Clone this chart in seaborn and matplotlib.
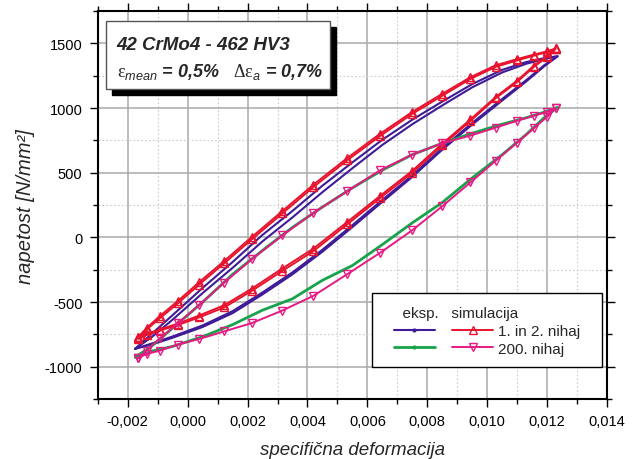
import matplotlib
matplotlib.use("Agg")
import matplotlib.pyplot as plt
import numpy as np
import pandas as pd
import seaborn as sns
from matplotlib.lines import Line2D
from matplotlib.patches import Rectangle
from matplotlib.ticker import MultipleLocator, FuncFormatter

# ---- simulated hysteresis loops (strain points shared by both branches) ----
sim_strain = [-0.00165, -0.00137, -0.00093, -0.00033, 0.00038, 0.00122, 0.00214,
              0.00316, 0.0042, 0.00532, 0.00643, 0.0075, 0.0085, 0.00944,
              0.01028, 0.011, 0.01156, 0.012, 0.01228]

# cycles 1 and 2: loading (upper) and unloading (lower) branches, N/mm^2
sim_c1_up = [-775, -712, -625, -510, -365, -200, -15, 185, 390, 595, 785, 955,
             1095, 1225, 1318, 1368, 1405, 1432, 1455]
sim_c1_down = [-785, -754, -720, -677, -618, -541, -413, -259, -105, 100, 305, 500,
               712, 900, 1075, 1202, 1318, 1395, 1455]
sim_c2_up = [-770, -700, -608, -492, -347, -182, 3, 203, 408, 612, 802, 970,
             1110, 1238, 1330, 1378, 1413, 1438, 1460]
sim_c2_down = [-770, -745, -712, -666, -604, -524, -396, -240, -86, 118, 322, 515,
               724, 912, 1085, 1212, 1328, 1402, 1460]

# cycle 200
sim_c200_up = [-933, -875, -780, -665, -523, -349, -169, 15, 190, 356, 520, 640,
               728, 787, 848, 902, 940, 972, 998]
sim_c200_down = [-933, -900, -875, -828, -785, -726, -662, -565, -451, -285, -118, 56,
                 241, 425, 592, 733, 844, 933, 998]

# ---- measured hysteresis loops ----
exp_strain = [-0.00175, -0.0012, -0.0005, 0.0005, 0.0015, 0.0025, 0.0035, 0.0045,
              0.0055, 0.0065, 0.0075, 0.0085, 0.0095, 0.0105, 0.0113, 0.0119, 0.01235]

exp_c1_up = [-860, -745, -600, -390, -190, 20, 205, 400, 580, 755, 910, 1050,
             1185, 1295, 1355, 1385, 1400]
exp_c1_down = [-860, -820, -765, -680, -570, -425, -270, -95, 95, 290, 480, 690,
               885, 1070, 1215, 1330, 1400]
exp_c2_up = [-860, -770, -635, -430, -235, -30, 155, 350, 535, 715, 875, 1020,
             1160, 1275, 1342, 1378, 1400]
exp_c2_down = [-860, -828, -775, -692, -585, -440, -285, -110, 80, 275, 468, 678,
               872, 1058, 1205, 1322, 1400]

exp_c200_up = [-925, -840, -700, -500, -285, -100, 78, 235, 383, 520, 640, 728,
               805, 875, 925, 968, 1005]
exp_c200_down = [-925, -879, -842, -767, -674, -562, -474, -331, -217, -55, 113, 270,
                 460, 640, 795, 925, 1005]

# tick spacing
x_major, x_minor = 0.002, 0.001
y_major, y_minor = 500, 250

PURPLE = "#3f1b98"
GREEN = "#17a34a"
RED = "#e8132e"
MAGENTA = "#e61a84"


def loop_frame(strain, up, down):
    """Closed loop: loading branch up to the peak, then unloading back."""
    s = list(strain) + list(strain[::-1])
    v = list(up) + list(down[::-1])
    return pd.DataFrame({"strain": s, "stress": v})


sns.set_theme(style="ticks")
plt.rcParams["font.family"] = ["Liberation Sans", "DejaVu Sans"]
plt.rcParams["mathtext.fontset"] = "custom"
plt.rcParams["mathtext.rm"] = "Liberation Serif"
plt.rcParams["mathtext.it"] = "Liberation Sans:italic"
plt.rcParams["mathtext.bf"] = "Liberation Sans:bold:italic"

fig = plt.figure(figsize=(6.39, 4.60), dpi=100)
ax = fig.add_axes([0.153, 0.130, 0.797, 0.844])

# measured loops
for up, down in [(exp_c1_up, exp_c1_down), (exp_c2_up, exp_c2_down)]:
    sns.lineplot(data=loop_frame(exp_strain, up, down), x="strain", y="stress",
                 sort=False, estimator=None, color=PURPLE, lw=1.5, ax=ax)
sns.lineplot(data=loop_frame(exp_strain, exp_c200_up, exp_c200_down), x="strain",
             y="stress", sort=False, estimator=None, color=GREEN, lw=2.0, ax=ax)

# simulated loops
for up, down in [(sim_c1_up, sim_c1_down), (sim_c2_up, sim_c2_down)]:
    sns.lineplot(data=loop_frame(sim_strain, up, down), x="strain", y="stress",
                 sort=False, estimator=None, color=RED, lw=1.4, marker="^",
                 markersize=6, markerfacecolor="none", markeredgecolor=RED,
                 markeredgewidth=1.0, ax=ax)
sns.lineplot(data=loop_frame(sim_strain, sim_c200_up, sim_c200_down), x="strain",
             y="stress", sort=False, estimator=None, color=MAGENTA, lw=1.4,
             marker="v", markersize=6, markerfacecolor="none",
             markeredgecolor=MAGENTA, markeredgewidth=1.0, ax=ax)

# axes
ax.set_xlim(-0.003, 0.014)
ax.set_ylim(-1250, 1750)
ax.xaxis.set_major_locator(MultipleLocator(x_major))
ax.xaxis.set_minor_locator(MultipleLocator(x_minor))
ax.yaxis.set_major_locator(MultipleLocator(y_major))
ax.yaxis.set_minor_locator(MultipleLocator(y_minor))
ax.xaxis.set_major_formatter(FuncFormatter(lambda v, p: f"{v:.3f}".replace(".", ",")
                                           .replace("-0,000", "0,000")))
ax.yaxis.set_major_formatter(FuncFormatter(lambda v, p: f"{int(round(v))}"))

ax.grid(which="major", color="#aaaaaa", lw=1.1, ls="-")
ax.grid(which="minor", color="#cccccc", lw=0.8, ls=(0, (1.5, 2.0)))
ax.set_axisbelow(True)

for sp in ax.spines.values():
    sp.set_visible(True)
    sp.set_color("black")
    sp.set_linewidth(1.5)
ax.tick_params(which="both", direction="out", top=True, right=True,
               labeltop=False, labelright=False, colors="black", width=1.0)
ax.tick_params(which="major", length=6, labelsize=10.5, pad=5)
ax.tick_params(which="minor", length=3.5)

ax.set_xlabel("specifična deformacija", fontsize=13.5, style="italic", labelpad=9)
ax.set_ylabel("napetost [N/mm²]", fontsize=14.5, style="italic", labelpad=7)

# annotation box with drop shadow
sh_dx, sh_dy = 6 / 509, 6 / 388
ax.add_patch(Rectangle((0.0157 + sh_dx, 0.799 - sh_dy), 0.44, 0.175,
                       transform=ax.transAxes, facecolor="black",
                       edgecolor="black", zorder=10))
ax.add_patch(Rectangle((0.0157, 0.799), 0.44, 0.175, transform=ax.transAxes,
                       facecolor="white", edgecolor="#555555", lw=1.0, zorder=11))
ax.text(0.037, 0.902, "42 CrMo4 - 462 HV3", transform=ax.transAxes, fontsize=13.5,
        fontweight="bold", style="italic", zorder=12)
ax.text(0.037, 0.832,
        r"$\mathrm{\varepsilon}_{mean}$ = 0,5%   $\mathrm{\Delta\varepsilon}_{a}$ = 0,7%",
        transform=ax.transAxes, fontsize=13, fontweight="bold", style="italic",
        zorder=12)

# legend: measured (left column) and simulated (right column), in a plain frame
ax.add_patch(Rectangle((0.538, 0.0825), 0.452, 0.1905, transform=ax.transAxes,
                       facecolor="white", edgecolor="black", lw=1.0, zorder=19))
handles = [
    Line2D([], [], color=PURPLE, lw=1.5, marker=".", markersize=4),
    Line2D([], [], color=GREEN, lw=2.0, marker=".", markersize=4),
    Line2D([], [], color=RED, lw=1.4, marker="^", markersize=6,
           markerfacecolor="none", markeredgecolor=RED),
    Line2D([], [], color=MAGENTA, lw=1.4, marker="v", markersize=6,
           markerfacecolor="none", markeredgecolor=MAGENTA),
]
labels = ["", "", "1. in 2. nihaj", "200. nihaj"]
leg = ax.legend(handles, labels, ncol=2, title="  eksp.   simulacija",
                loc="center", bbox_to_anchor=(0.764, 0.176),
                frameon=False, handlelength=2.7, handletextpad=0.3,
                columnspacing=0.8, labelspacing=0.25, borderpad=0.0,
                fontsize=11, title_fontsize=11)
leg._legend_box.align = "left"
leg.set_zorder(20)

fig.savefig("out.png", dpi=100)
